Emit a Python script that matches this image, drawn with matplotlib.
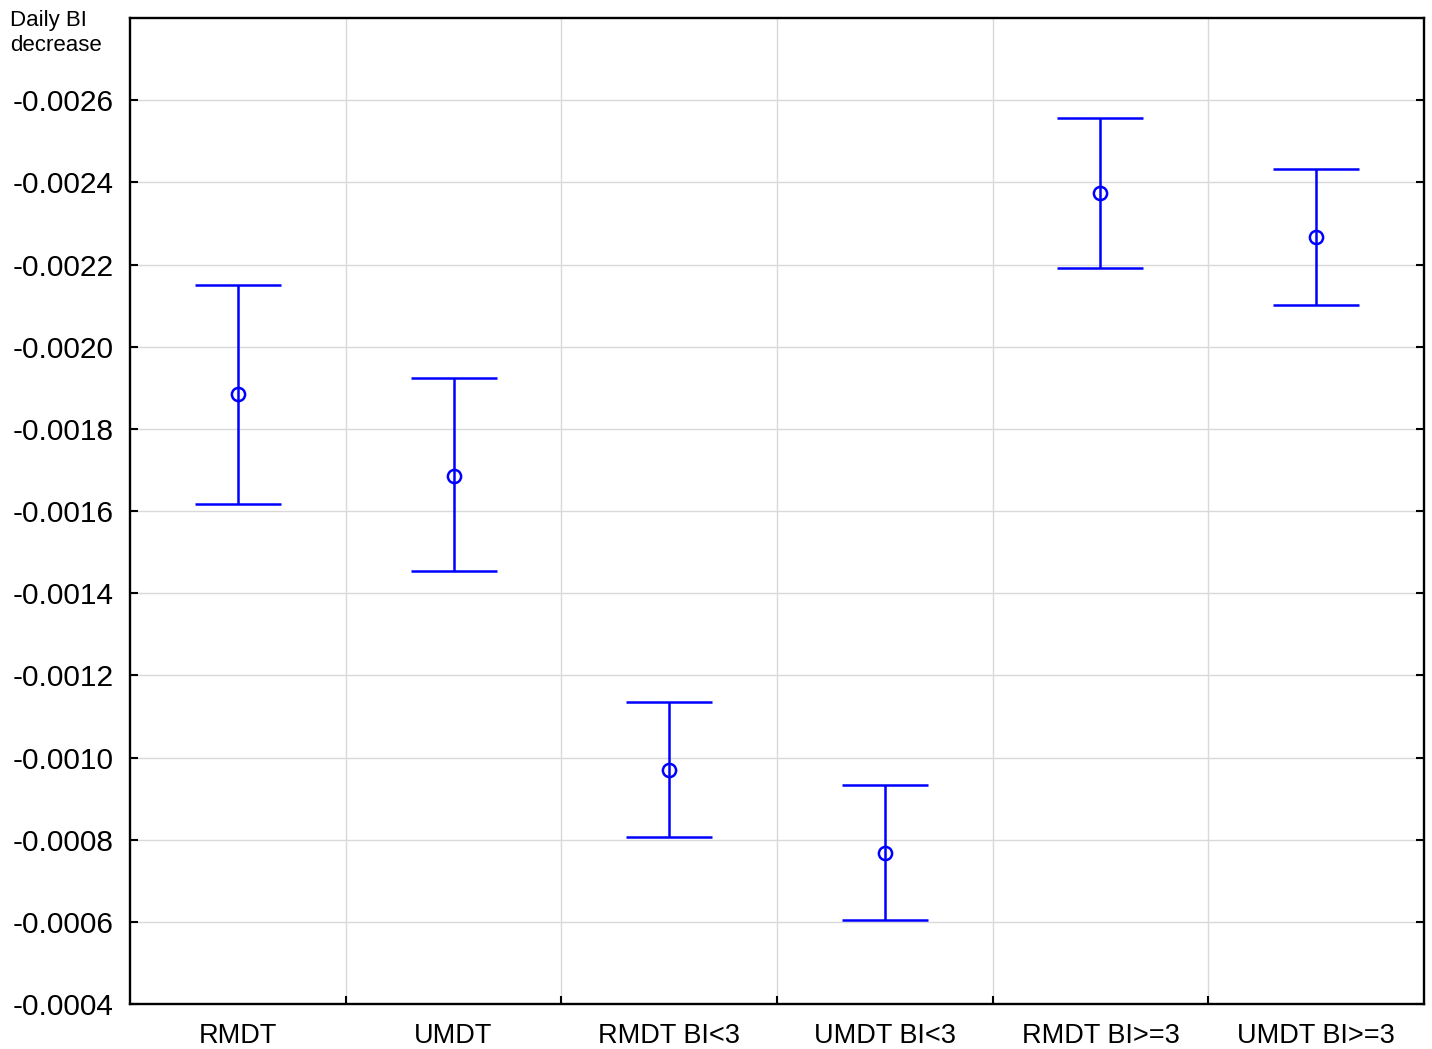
import matplotlib

matplotlib.use('Agg')

import numpy as np
import matplotlib.pyplot as plt
from matplotlib.ticker import FixedLocator, NullFormatter

plt.rcParams['font.family'] = ['Liberation Sans', 'DejaVu Sans']

groups = ['RMDT', 'UMDT', 'RMDT BI<3', 'UMDT BI<3', 'RMDT BI>=3', 'UMDT BI>=3']
means = [-0.001884, -0.001686, -0.000970, -0.000768, -0.002373, -0.002266]
upper = [-0.002149, -0.001923, -0.001136, -0.000934, -0.002556, -0.002432]
lower = [-0.001618, -0.001453, -0.000807, -0.000605, -0.002191, -0.002101]
yticks = [-0.0026, -0.0024, -0.0022, -0.0020, -0.0018, -0.0016, -0.0014,
          -0.0012, -0.0010, -0.0008, -0.0006, -0.0004]

x = np.arange(len(groups))
means = np.array(means)
err = [means - np.array(upper), np.array(lower) - means]

fig = plt.figure(figsize=(14.32, 10.49), dpi=100)
ax = fig.add_axes([0.0908, 0.0429, 0.9944 - 0.0908, 0.9828 - 0.0429])

ax.errorbar(x, means, yerr=np.abs(err), fmt='o', color='#0000ff', mfc='none',
            mec='#0000ff', ms=9.5, mew=1.8, elinewidth=1.8, capsize=31, capthick=1.8,
            zorder=3)

ax.set_xlim(-0.5, len(groups) - 0.5)
ax.set_ylim(-0.0004, -0.0028)

ax.set_xticks(x)
ax.set_xticklabels(groups, fontsize=19.5)
ax.xaxis.set_minor_locator(FixedLocator(x[:-1] + 0.5))
ax.xaxis.set_minor_formatter(NullFormatter())
ax.tick_params(axis='x', which='major', length=0, pad=14)
ax.tick_params(axis='x', which='minor', direction='in', length=6, width=1.5,
               top=False)

ax.set_yticks(yticks)
ax.set_yticklabels(['%.4f' % v for v in yticks], fontsize=21.5)
ax.tick_params(axis='y', direction='in', length=6, width=1.5, right=True, pad=12)

ax.grid(True, axis='y', which='major', color='#d9d9d9', linewidth=1)
ax.grid(True, axis='x', which='minor', color='#d9d9d9', linewidth=1)
ax.set_axisbelow(True)

for s in ax.spines.values():
    s.set_linewidth(1.7)

fig.text(0.007, 0.990, 'Daily BI\ndecrease', fontsize=16, va='top', ha='left',
         linespacing=1.2)

fig.savefig('out.png', dpi=100)
